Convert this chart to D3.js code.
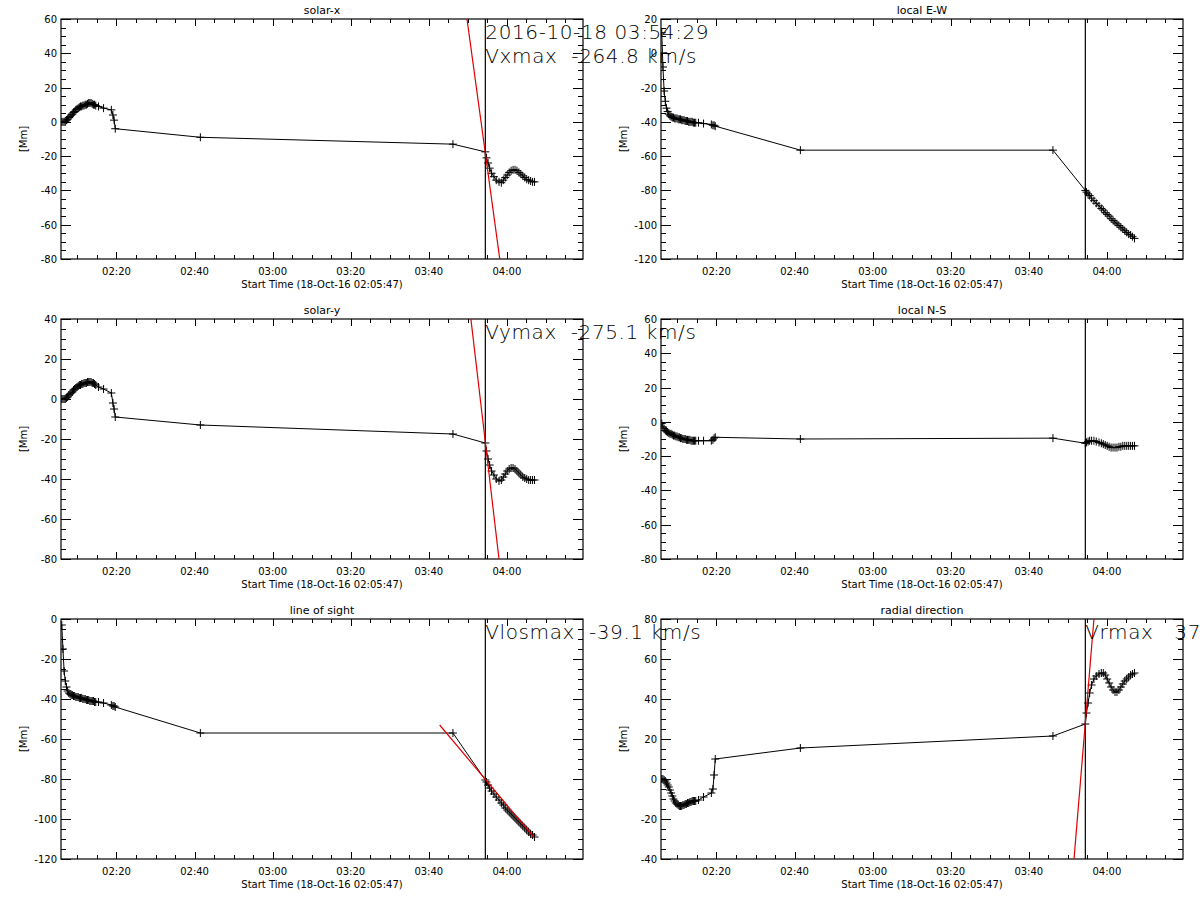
<!DOCTYPE html>
<html>
<head>
<meta charset="utf-8">
<script src="https://cdn.jsdelivr.net/npm/d3@7"></script>
<style>
  body { margin: 0; background: #fff; }
  svg text { font-family: "DejaVu Sans", sans-serif; fill: #000; }
</style>
</head>
<body>
<svg id="chart" width="1200" height="900"></svg>
<script>
// minutes after 02:05:47 UT, 18-Oct-2016
const times = [
  0.2, 0.5, 0.8, 1.1, 1.4, 1.7, 2.0, 2.3, 2.6, 2.9, 3.2, 3.5, 3.8, 4.1, 4.4,
  4.7, 5.0, 5.3, 5.6, 5.9, 6.2, 6.5, 6.8, 7.1, 7.4, 7.7, 8.0, 8.3, 8.6, 8.9,
  9.6, 10.9, 12.9, 13.3, 13.6, 13.9,
  35.7, 100.4, 108.7,
  109.0, 109.4, 109.8, 110.3, 110.9, 111.5, 112.2, 112.8, 113.3, 113.8, 114.3,
  114.8, 115.3, 115.8, 116.3, 116.8, 117.3, 117.8, 118.3, 118.8, 119.3, 119.8,
  120.3, 120.8, 121.3
];

const solarX = [
  0, 0, 0, 0, 1, 1.5, 2.5, 3, 4, 4.5, 5.5, 6, 7, 7.5, 8,
  8.5, 9, 9, 9.5, 9.5, 10, 10, 10.5, 11, 11, 11, 10.5, 10, 10, 9.5,
  9, 8, 7, 4, 1, -4,
  -9, -13, -17.5,
  -21, -24, -27, -30, -32, -34, -35, -35.5, -34, -32.5, -31,
  -29.5, -28.5, -28, -28, -28.5, -29.5, -30.5, -31.5, -32.5, -33.5, -34,
  -34.5, -35, -35
];

const localEW = [
  12, -8, -22, -28, -32, -34, -35.5, -36.5, -37, -37.5, -37.5, -38, -38, -38, -38.5,
  -38.5, -38.5, -39, -39, -39, -39.5, -39.5, -39.5, -40, -40, -40, -40, -40.5, -40.5, -40.5,
  -40.5, -41, -41.5, -42, -42, -42.5,
  -56.5, -56.5, -80,
  -81, -82, -83, -84.5, -86, -87.5, -89, -90.5, -91.5, -93, -94,
  -95, -96.5, -97.5, -98.5, -99.5, -100.5, -101.5, -102.5, -103.5, -104.5, -105.5,
  -106, -107, -108
];

const solarY = [
  0, 0, 0, 0, 0.5, 1, 2, 2.5, 3, 3.5, 4.5, 5, 5.5, 6, 6.5,
  7, 7, 7.5, 7.5, 8, 8, 8, 8.5, 8.5, 8.5, 8.5, 8, 8, 7.5, 7,
  6, 5, 3, -2, -5, -9,
  -13, -17.5, -22,
  -26, -30, -33, -36, -38, -40, -41, -40.5, -39, -37.5, -36,
  -35, -34.5, -34.5, -35, -36, -37, -38, -39, -39.5, -40,
  -40.5, -40.5, -40.5, -40.5
];

const localNS = [
  -1, -3, -4, -5, -5.5, -6, -6.5, -7, -7, -7.5, -8, -8, -8.5, -8.5, -9,
  -9, -9.5, -9.5, -10, -10, -10, -10.5, -10.5, -10.5, -10.5, -11, -11, -11, -11, -11,
  -11, -11, -11, -10.5, -9.5, -9,
  -10, -9.5, -12.5,
  -12, -11.5, -11, -11, -11, -11.5, -12, -12.5, -13, -13.5, -14,
  -14.5, -15, -15, -15, -15, -14.5, -14.5, -14, -14, -14, -14,
  -14, -14, -14
];

const lineOfSight = [
  -3, -15, -26, -31, -34, -36, -37, -37.5, -38, -38, -38.5, -38.5, -39, -39, -39,
  -39.5, -39.5, -39.5, -40, -40, -40, -40.5, -40.5, -40.5, -41, -41, -41, -41, -41.5, -41.5,
  -41.5, -42, -43, -43.5, -43.5, -44,
  -57, -57, -80.5,
  -81.5, -83, -84.5, -86, -87.5, -89, -90.5, -92, -93, -94.5, -95.5,
  -96.5, -97.5, -98.5, -99.5, -100.5, -101.5, -102.5, -103.5, -104.5, -105.5, -106.5,
  -107.5, -108, -109
];

const radial = [
  0, 0, -0.5, -1, -2, -3, -4, -5.5, -7, -8.5, -10, -11, -12, -12.5, -13,
  -13.5, -13.5, -13.5, -13, -13, -12.5, -12.5, -12, -12, -11.5, -11.5, -11, -11, -11, -11,
  -10.5, -9, -7, -5, 2, 10,
  15.5, 21.5, 27.5,
  33, 38, 43, 47, 50, 51.5, 52.5, 53, 53, 52, 50,
  48, 46, 44.5, 43.5, 43.5, 44.5, 46, 47.5, 49, 50,
  51, 52, 52.5, 53
];

// fitted lines: [minute, Mm] end points
const fitSolarX = [[104.0, 60], [112.4, -80]];
const fitSolarY = [[105.0, 40], [112.2, -80]];
const fitLos = [[97.0, -53], [121.1, -109]];
const fitRadial = [[105.8, -40], [110.9, 80]];

const titles = ['solar-x', 'local E-W', 'solar-y', 'local N-S', 'line of sight', 'radial direction'];
const yDomains = [[-80, 60], [-120, 20], [-80, 40], [-80, 60], [-120, 0], [-40, 80]];
const annotations = [
  ['2016-10-18 03:54:29', 'Vxmax  -264.8 km/s'],
  [],
  ['Vymax  -275.1 km/s'],
  [],
  ['Vlosmax  -39.1 km/s'],
  ['Vrmax   377.4 km/s']
];

const START = Date.UTC(2016, 9, 18, 2, 5, 47);
const END = Date.UTC(2016, 9, 18, 4, 19, 30);
const EVENT = Date.UTC(2016, 9, 18, 3, 54, 29);
const toDate = m => new Date(START + m * 60000);

const panels = [
  { title: titles[0], y: yDomains[0], values: solarX, fit: fitSolarX, notes: annotations[0] },
  { title: titles[1], y: yDomains[1], values: localEW, fit: null, notes: annotations[1] },
  { title: titles[2], y: yDomains[2], values: solarY, fit: fitSolarY, notes: annotations[2] },
  { title: titles[3], y: yDomains[3], values: localNS, fit: null, notes: annotations[3] },
  { title: titles[4], y: yDomains[4], values: lineOfSight, fit: fitLos, notes: annotations[4] },
  { title: titles[5], y: yDomains[5], values: radial, fit: fitRadial, notes: annotations[5] }
];

const svg = d3.select('#chart');
const pw = 522, ph = 240;
const noteLayer = [];

panels.forEach((p, i) => {
  const left = i % 2 === 0 ? 61 : 661;
  const top = 19 + Math.floor(i / 2) * 300;
  const g = svg.append('g').attr('transform', `translate(${left},${top})`);

  const x = d3.scaleUtc().domain([new Date(START), new Date(END)]).range([0, pw]);
  const y = d3.scaleLinear().domain(p.y).range([ph, 0]);

  const clipId = 'clip' + i;
  g.append('clipPath').attr('id', clipId)
    .append('rect').attr('width', pw).attr('height', ph);

  // ticks, IDL style: inward on all four sides
  const majorX = d3.utcMinute.every(20).range(new Date(START), new Date(END));
  const minorX = d3.utcMinute.every(5).range(new Date(START), new Date(END));
  const majorY = d3.range(p.y[0], p.y[1] + 1, 20);
  const minorY = d3.range(p.y[0], p.y[1] + 1, 5);

  const tk = g.append('g').attr('stroke', '#000').attr('stroke-width', 1);
  minorX.forEach(d => {
    const len = d.getUTCMinutes() % 20 === 0 ? 7 : 4;
    const xv = Math.round(x(d)) + 0.5;
    tk.append('line').attr('x1', xv).attr('x2', xv).attr('y1', ph).attr('y2', ph - len);
    tk.append('line').attr('x1', xv).attr('x2', xv).attr('y1', 0).attr('y2', len);
  });
  minorY.forEach(d => {
    const len = d % 20 === 0 ? 10 : 5;
    const yv = Math.round(y(d)) + 0.5;
    tk.append('line').attr('x1', 0).attr('x2', len).attr('y1', yv).attr('y2', yv);
    tk.append('line').attr('x1', pw).attr('x2', pw - len).attr('y1', yv).attr('y2', yv);
  });

  g.append('rect').attr('width', pw).attr('height', ph)
    .attr('fill', 'none').attr('stroke', '#000').attr('stroke-width', 1.2);

  const fmt = d3.utcFormat('%H:%M');
  g.selectAll('.xl').data(majorX).enter().append('text')
    .attr('x', d => x(d)).attr('y', ph + 16)
    .attr('text-anchor', 'middle').style('font-size', '10px')
    .text(fmt);
  g.selectAll('.yl').data(majorY).enter().append('text')
    .attr('x', -4).attr('y', d => y(d) + 4)
    .attr('text-anchor', 'end').style('font-size', '10px')
    .text(d => d);

  g.append('text').attr('x', pw / 2).attr('y', ph + 29)
    .attr('text-anchor', 'middle').style('font-size', '10px')
    .text('Start Time (18-Oct-16 02:05:47)');
  g.append('text').attr('x', pw / 2).attr('y', -5)
    .attr('text-anchor', 'middle').style('font-size', '11px')
    .text(p.title);
  g.append('text')
    .attr('transform', `translate(${-34},${ph / 2}) rotate(-90)`)
    .attr('text-anchor', 'middle').style('font-size', '10px')
    .text('[Mm]');

  const plot = g.append('g').attr('clip-path', `url(#${clipId})`);
  const pts = times.map((t, k) => [toDate(t), p.values[k]]);

  plot.append('path').datum(pts)
    .attr('fill', 'none').attr('stroke', '#000').attr('stroke-width', 1)
    .attr('d', d3.line().x(d => x(d[0])).y(d => y(d[1])));

  const m = 4;
  plot.selectAll('.mk').data(pts).enter().append('path')
    .attr('stroke', '#000').attr('stroke-width', 1).attr('fill', 'none')
    .attr('d', d => {
      const cx = x(d[0]), cy = y(d[1]);
      return `M${cx - m},${cy}H${cx + m}M${cx},${cy - m}V${cy + m}`;
    });

  plot.append('line')
    .attr('x1', x(new Date(EVENT))).attr('x2', x(new Date(EVENT)))
    .attr('y1', 0).attr('y2', ph)
    .attr('stroke', '#000').attr('stroke-width', 1.2);

  if (p.fit) {
    plot.append('line')
      .attr('x1', x(toDate(p.fit[0][0]))).attr('y1', y(p.fit[0][1]))
      .attr('x2', x(toDate(p.fit[1][0]))).attr('y2', y(p.fit[1][1]))
      .attr('stroke', '#e00000').attr('stroke-width', 1.2);
  }

  p.notes.forEach((txt, k) => {
    noteLayer.push({ x: left + x(new Date(EVENT)), y: top + 20 + k * 24, txt });
  });
});

// annotations drawn last so they sit over neighbouring panels
svg.selectAll('.note').data(noteLayer).enter().append('text')
  .attr('x', d => d.x).attr('y', d => d.y)
  .attr('xml:space', 'preserve').style('white-space', 'pre')
  .style('font-size', '20px').style('font-weight', '300')
  .style('letter-spacing', '0.6px')
  .text(d => d.txt);
</script>
</body>
</html>
